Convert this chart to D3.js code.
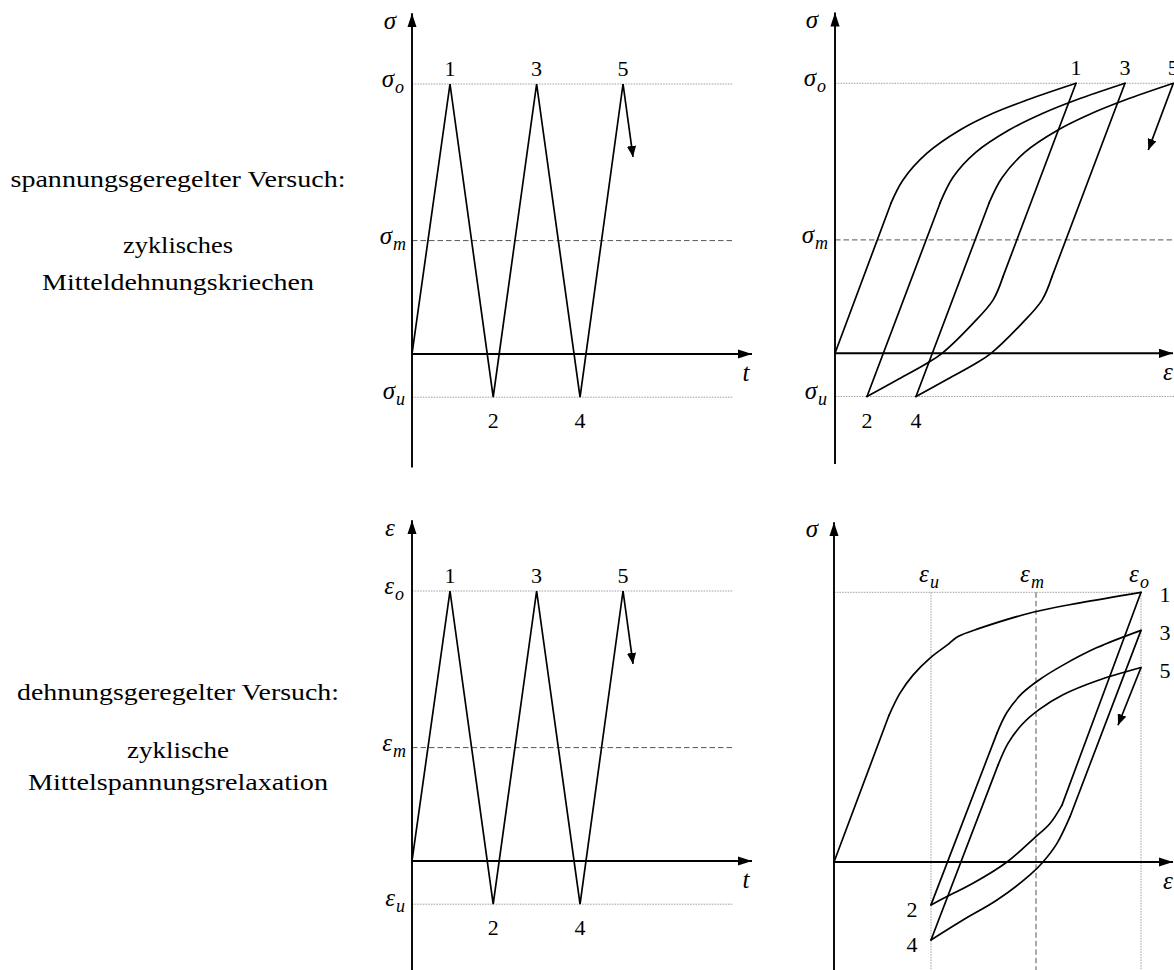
<!DOCTYPE html>
<html>
<head>
<meta charset="utf-8">
<script src="https://cdn.jsdelivr.net/npm/d3@7"></script>
<style>
  html, body { margin: 0; padding: 0; background: #fff; }
  svg { display: block; }
  text { font-family: "Liberation Serif", "Times New Roman", serif; fill: #000; }
</style>
</head>
<body>
<svg id="chart" width="1174" height="970"></svg>
<script>
// ---------------- data ----------------
const peakLabels = ["1", "2", "3", "4", "5"];

// load programme over time (controlled quantity, upper level normalised to 1)
const reversalTimes  = [0, 0.875, 1.87, 2.87, 3.87, 4.86];
const reversalValues = [0, 1, -0.16, 1, -0.16, 1];
const upperLevel = 1, meanLevel = 0.42, lowerLevel = -0.16;
const continuationArrow = [[4.86, 1], [5.09, 0.73]];

// stress-controlled test: sigma-epsilon branches [strain, stress]
const creepLoading01 = [[0, 0], [0.56, 0.556], [0.68, 0.642], [0.92, 0.741], [1.25, 0.827], [1.58, 0.889], [1.92, 0.938], [2.41, 1]];
const creepUnload12  = [[2.41, 1], [1.68, 0.284], [1.58, 0.197], [1.38, 0.111], [1.07, 0], [0.92, -0.037], [0.62, -0.099], [0.32, -0.16]];
const creepReload23  = [[0.32, -0.16], [1.05, 0.556], [1.18, 0.652], [1.41, 0.745], [1.74, 0.827], [2.08, 0.889], [2.41, 0.938], [2.9, 1]];
const creepUnload34  = [[2.9, 1], [2.17, 0.284], [2.07, 0.197], [1.87, 0.111], [1.56, 0], [1.41, -0.037], [1.11, -0.099], [0.81, -0.16]];
const creepReload45  = [[0.81, -0.16], [1.54, 0.556], [1.67, 0.65], [1.9, 0.745], [2.23, 0.827], [2.57, 0.889], [2.9, 0.938], [3.383, 1]];
const creepArrow     = [[3.383, 1], [3.133, 0.753]];
const creepPeakStrain = [2.41, 0.32, 2.9, 0.81, 3.383];

// strain-controlled test: sigma-epsilon branches [strain, stress]
const strainLower = 0.97, strainMean = 2.02, strainUpper = 3.07;
const relaxLoading01 = [[0, 0], [0.55, 0.544], [0.66, 0.626], [0.79, 0.693], [0.96, 0.756], [1.13, 0.804], [1.24, 0.836], [1.46, 0.867], [2.0, 0.927], [2.46, 0.961], [3.07, 1]];
const relaxUnload12  = [[3.07, 1], [2.28, 0.211], [2.16, 0.143], [2.0, 0.088], [1.73, 0.0], [1.39, -0.079], [1.13, -0.128], [0.97, -0.159]];
const relaxReload23  = [[0.97, -0.159], [1.63, 0.478], [1.73, 0.555], [1.88, 0.625], [2.05, 0.675], [2.29, 0.73], [2.63, 0.795], [3.07, 0.859]];
const relaxUnload34  = [[3.07, 0.859], [2.36, 0.168], [2.23, 0.069], [2.09, 0.0], [1.96, -0.048], [1.63, -0.141], [1.29, -0.215], [0.97, -0.289]];
const relaxReload45  = [[0.97, -0.289], [1.64, 0.359], [1.74, 0.44], [1.88, 0.51], [2.05, 0.565], [2.29, 0.62], [2.63, 0.672], [3.07, 0.721]];
const relaxArrow     = [[3.07, 0.721], [2.84, 0.507]];
const relaxPeakStress = [1, -0.159, 0.859, -0.289, 0.721];

// row captions
const rowTitles   = ["spannungsgeregelter Versuch:", "dehnungsgeregelter Versuch:"];
const rowSubtitle = [["zyklisches", "Mitteldehnungskriechen"], ["zyklische", "Mittelspannungsrelaxation"]];

// ---------------- drawing ----------------
const svg = d3.select("#chart");
const defs = svg.append("defs");

function addHead(id, len, half) {
  defs.append("marker")
    .attr("id", id)
    .attr("markerUnits", "userSpaceOnUse")
    .attr("viewBox", `0 ${-half} ${len} ${2 * half}`)
    .attr("refX", len).attr("refY", 0)
    .attr("markerWidth", len).attr("markerHeight", 2 * half)
    .attr("orient", "auto")
    .append("path")
    .attr("d", `M0,${-half}L${len},0L0,${half}Z`)
    .attr("fill", "#000");
}
addHead("axisHead", 14, 4.6);
addHead("curveHead", 11, 4.6);

const lineGen = d3.line();
const smoothGen = d3.line().curve(d3.curveCatmullRom.alpha(0.5));

const STROKE = 1.7, AXIS = 1.9;

function axes(g, sx, sy, xEnd, yBottom, yTop) {
  g.append("line")
    .attr("x1", sx(0)).attr("y1", sy(yBottom))
    .attr("x2", sx(0)).attr("y2", sy(yTop))
    .attr("stroke", "#000").attr("stroke-width", AXIS)
    .attr("marker-end", "url(#axisHead)");
  g.append("line")
    .attr("x1", sx(0)).attr("y1", sy(0))
    .attr("x2", sx(xEnd)).attr("y2", sy(0))
    .attr("stroke", "#000").attr("stroke-width", AXIS)
    .attr("marker-end", "url(#axisHead)");
}

function guide(g, x1, y1, x2, y2, dashed) {
  g.append("line")
    .attr("x1", x1).attr("y1", y1).attr("x2", x2).attr("y2", y2)
    .attr("stroke", dashed ? "#555" : "#9a9a9a")
    .attr("stroke-width", dashed ? 1 : 0.9)
    .attr("stroke-dasharray", dashed ? "5.5,3" : "1.6,1.1");
}

function mathLabel(g, x, y, sym, sub, anchor) {
  const t = g.append("text")
    .attr("x", x).attr("y", y)
    .attr("text-anchor", anchor || "end")
    .style("font-size", "25px")
    .style("font-style", "italic");
  t.append("tspan").text(sym);
  if (sub) {
    t.append("tspan").attr("dx", 1).attr("dy", 6).style("font-size", "18px").text(sub);
  }
  return t;
}

function numLabel(g, x, y, s, anchor) {
  g.append("text")
    .attr("x", x).attr("y", y)
    .attr("text-anchor", anchor || "middle")
    .style("font-size", "22px")
    .text(s);
}

function branch(g, pts, sx, sy) {
  const p = pts.map(d => [sx(d[0]), sy(d[1])]);
  g.append("path").attr("d", lineGen(p.slice(0, 2)))
    .attr("fill", "none").attr("stroke", "#000").attr("stroke-width", STROKE)
    .attr("stroke-linecap", "round");
  g.append("path").attr("d", smoothGen(p.slice(1)))
    .attr("fill", "none").attr("stroke", "#000").attr("stroke-width", STROKE)
    .attr("stroke-linecap", "round").attr("stroke-linejoin", "round");
}

function arrowLine(g, pts, sx, sy) {
  g.append("path").attr("d", lineGen(pts.map(d => [sx(d[0]), sy(d[1])])))
    .attr("fill", "none").attr("stroke", "#000").attr("stroke-width", STROKE)
    .attr("marker-end", "url(#curveHead)");
}

// time-history panel (left column)
function timePanel(y0, symbol) {
  const g = svg.append("g");
  const sx = d3.scaleLinear().domain([0, 7.83]).range([412, 752]);
  const sy = d3.scaleLinear().domain([0, 1]).range([y0, y0 - 270]);

  guide(g, sx(0), sy(upperLevel), sx(7.4), sy(upperLevel), false);
  guide(g, sx(0), sy(meanLevel), sx(7.4), sy(meanLevel), true);
  guide(g, sx(0), sy(lowerLevel), sx(7.4), sy(lowerLevel), false);
  axes(g, sx, sy, 7.83, -0.42, 1.262);

  const pts = reversalTimes.map((t, i) => [sx(t), sy(reversalValues[i])]);
  g.append("path").attr("d", lineGen(pts))
    .attr("fill", "none").attr("stroke", "#000").attr("stroke-width", STROKE)
    .attr("stroke-linejoin", "miter");
  arrowLine(g, continuationArrow, sx, sy);

  peakLabels.forEach((s, i) => {
    const t = reversalTimes[i + 1];
    const up = reversalValues[i + 1] > 0;
    numLabel(g, sx(t), up ? sy(upperLevel) - 8 : sy(lowerLevel) + 31, s);
  });

  mathLabel(g, 390, sy(1.205), symbol, null, "middle");
  mathLabel(g, 404, sy(upperLevel) + 3, symbol, "o");
  mathLabel(g, 406, sy(meanLevel) + 3, symbol, "m");
  mathLabel(g, 405, sy(lowerLevel) + 2, symbol, "u");
  mathLabel(g, 746, sy(-0.1), "t", null, "middle");
}

// stress-controlled hysteresis (top right)
function creepPanel() {
  const g = svg.append("g");
  const sx = d3.scaleLinear().domain([0, 1]).range([835, 935]);
  const sy = d3.scaleLinear().domain([0, 1]).range([353.3, 83.3]);

  guide(g, sx(0), sy(upperLevel), sx(3.4), sy(upperLevel), false);
  guide(g, sx(0), sy(meanLevel), sx(3.4), sy(meanLevel), true);
  guide(g, sx(0), sy(lowerLevel), sx(3.4), sy(lowerLevel), false);
  axes(g, sx, sy, 3.38, -0.41, 1.262);

  [creepLoading01, creepUnload12, creepReload23, creepUnload34, creepReload45]
    .forEach(b => branch(g, b, sx, sy));
  arrowLine(g, creepArrow, sx, sy);

  peakLabels.forEach((s, i) => {
    const up = i % 2 === 0;
    numLabel(g, sx(creepPeakStrain[i]), up ? sy(upperLevel) - 8 : sy(lowerLevel) + 31, s);
  });

  mathLabel(g, 812, sy(1.205), "σ", null, "middle");
  mathLabel(g, 826, sy(upperLevel) + 3, "σ", "o");
  mathLabel(g, 828, sy(meanLevel) + 3, "σ", "m");
  mathLabel(g, 827, sy(lowerLevel) + 2, "σ", "u");
  mathLabel(g, 1168, sy(-0.1), "ε", null, "middle");
}

// strain-controlled hysteresis (bottom right)
function relaxPanel() {
  const g = svg.append("g");
  const sx = d3.scaleLinear().domain([0, 1]).range([834, 934]);
  const sy = d3.scaleLinear().domain([0, 1]).range([862, 592.3]);

  guide(g, sx(0), sy(1), sx(strainUpper), sy(1), false);
  guide(g, sx(strainLower), sy(1), sx(strainLower), sy(-0.42), false);
  guide(g, sx(strainMean), sy(1), sx(strainMean), sy(-0.42), true);
  guide(g, sx(strainUpper), sy(1), sx(strainUpper), sy(-0.42), false);
  axes(g, sx, sy, 3.39, -0.42, 1.26);

  [relaxLoading01, relaxUnload12, relaxReload23, relaxUnload34, relaxReload45]
    .forEach(b => branch(g, b, sx, sy));
  arrowLine(g, relaxArrow, sx, sy);

  peakLabels.forEach((s, i) => {
    const up = i % 2 === 0;
    if (up) numLabel(g, 1165, sy(relaxPeakStress[i]) + 10, s);
    else numLabel(g, 912, sy(relaxPeakStress[i]) + 12, s);
  });

  mathLabel(g, 812, sy(1.205), "σ", null, "middle");
  mathLabel(g, sx(strainLower) - 2, sy(1) - 10, "ε", "u", "middle");
  mathLabel(g, sx(strainMean) - 4, sy(1) - 10, "ε", "m", "middle");
  mathLabel(g, sx(strainUpper) - 2, sy(1) - 10, "ε", "o", "middle");
  mathLabel(g, 1168, sy(-0.1), "ε", null, "middle");
}

// row captions, set to the measured line widths
function caption(lines, ys, widths) {
  lines.forEach((s, i) => {
    svg.append("text")
      .attr("x", 178).attr("y", ys[i])
      .attr("text-anchor", "middle")
      .attr("textLength", widths[i])
      .attr("lengthAdjust", "spacingAndGlyphs")
      .style("font-size", "24px")
      .text(s);
  });
}

timePanel(354, "σ");
timePanel(861, "ε");
creepPanel();
relaxPanel();

caption([rowTitles[0], rowSubtitle[0][0], rowSubtitle[0][1]], [187, 253, 290], [335, 110, 272]);
caption([rowTitles[1], rowSubtitle[1][0], rowSubtitle[1][1]], [700, 758, 790], [322, 102, 300]);
</script>
</body>
</html>
